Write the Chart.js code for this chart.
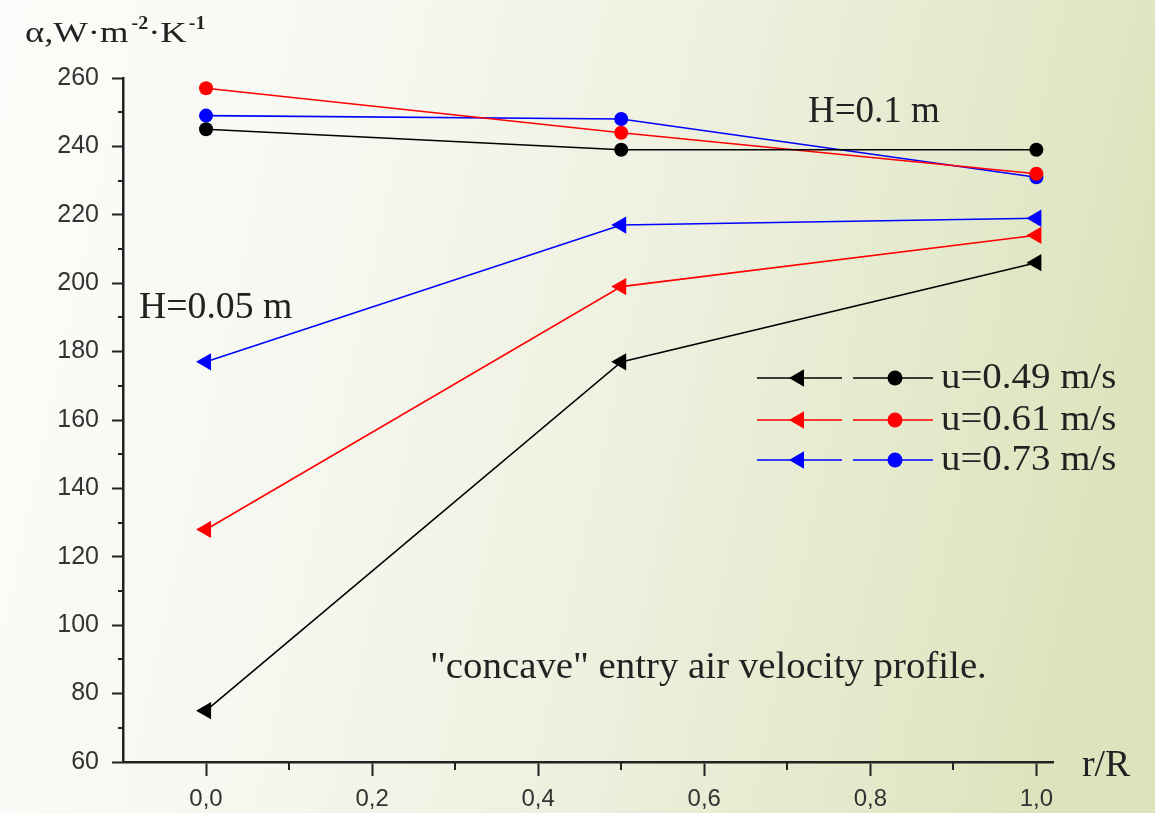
<!DOCTYPE html>
<html><head><meta charset="utf-8">
<script src="https://cdn.jsdelivr.net/npm/chart.js@4.4.1/dist/chart.umd.min.js"></script>
<style>
html,body{margin:0;padding:0;width:1155px;height:813px;overflow:hidden;background:#fff;}
#wrap{position:relative;width:1155px;height:813px;}
</style></head><body>
<div id="wrap"><canvas id="c" width="1155" height="813"></canvas></div>
<script>
// ---- data ----
const rR = [0, 0.5, 1.0];
const xTickValues = [0, 0.2, 0.4, 0.6, 0.8, 1.0];
const xMinorTicks = [0.1, 0.3, 0.5, 0.7, 0.9];
const yTickValues = [60, 80, 100, 120, 140, 160, 180, 200, 220, 240, 260];
const yMinorTicks = [70, 90, 110, 130, 150, 170, 190, 210, 230, 250];
const speedLabels = ['u=0.49 m/s', 'u=0.61 m/s', 'u=0.73 m/s'];
const seriesColors = ['#000000', '#ff0000', '#0000ff'];
// H = 0.1 m (circles)
const h01_u049 = [245, 239, 239];
const h01_u061 = [257, 244, 232];
const h01_u073 = [249, 248, 231];
// H = 0.05 m (triangles)
const h005_u049 = [75, 177, 206];
const h005_u061 = [128, 199, 214];
const h005_u073 = [177, 217, 219];

const yTitle = ['α,W·m', '-2', '·K', '-1'];
const xTitle = 'r/R';
const noteH01 = 'H=0.1 m';
const noteH005 = 'H=0.05 m';
const noteProfile = '"concave" entry air velocity profile.';

const SERIF = '"Liberation Serif", "Times New Roman", serif';
const SANS = '"Liberation Sans", Arial, sans-serif';

function pts(vals){ return vals.map((v,i)=>({x:rR[i], y:v})); }

function ds(vals, color, style){
  const tri = style === 'triangle';
  return {
    data: pts(vals),
    borderColor: color,
    backgroundColor: color,
    borderWidth: 1.6,
    pointStyle: style,
    pointRotation: tri ? -90 : 0,
    pointRadius: tri ? 10 : 7,
    pointBorderWidth: 0,
    pointBackgroundColor: color,
    tension: 0,
    clip: false
  };
}

const datasets = [
  ds(h01_u049, seriesColors[0], 'circle'),
  ds(h01_u061, seriesColors[1], 'circle'),
  ds(h01_u073, seriesColors[2], 'circle'),
  ds(h005_u049, seriesColors[0], 'triangle'),
  ds(h005_u061, seriesColors[1], 'triangle'),
  ds(h005_u073, seriesColors[2], 'triangle')
];

const bgPlugin = {
  id: 'bg',
  beforeDraw(chart){
    const ctx = chart.ctx;
    const g = ctx.createLinearGradient(0, 0, 1155, 250);
    g.addColorStop(0, '#fcfcfa');
    g.addColorStop(0.3, '#f7f8f1');
    g.addColorStop(0.6, '#eef0df');
    g.addColorStop(0.85, '#e3e9ca');
    g.addColorStop(1, '#dce4bd');
    ctx.save();
    ctx.fillStyle = g;
    ctx.fillRect(0, 0, chart.width, chart.height);
    ctx.restore();
  }
};

function drawMarker(ctx, style, x, y, color){
  ctx.fillStyle = color;
  ctx.beginPath();
  if (style === 'circle') {
    ctx.arc(x, y, 7.5, 0, Math.PI*2);
  } else {
    const r = 10;
    ctx.moveTo(x - r, y);
    ctx.lineTo(x + r*0.5, y - r*0.866);
    ctx.lineTo(x + r*0.5, y + r*0.866);
    ctx.closePath();
  }
  ctx.fill();
}

// text drawn with a slight horizontal stretch; returns advance width
function stretchText(ctx, text, x, y, font, sx){
  ctx.save();
  ctx.font = font;
  ctx.translate(x, y);
  ctx.scale(sx, 1);
  ctx.fillText(text, 0, 0);
  const w = ctx.measureText(text).width * sx;
  ctx.restore();
  return w;
}

const decoPlugin = {
  id: 'deco',
  afterDraw(chart){
    const ctx = chart.ctx;
    const xs = chart.scales.x, ys = chart.scales.y;
    ctx.save();
    // minor ticks
    ctx.strokeStyle = '#222';
    ctx.lineWidth = 2;
    ctx.beginPath();
    yMinorTicks.forEach(v=>{
      const p = Math.round(ys.getPixelForValue(v));
      ctx.moveTo(xs.left - 5, p); ctx.lineTo(xs.left, p);
    });
    xMinorTicks.forEach(v=>{
      const p = Math.round(xs.getPixelForValue(v));
      ctx.moveTo(p, ys.bottom); ctx.lineTo(p, ys.bottom + 8);
    });
    ctx.stroke();

    // axis titles
    ctx.fillStyle = '#222';
    ctx.textBaseline = 'alphabetic';
    ctx.textAlign = 'left';
    let tx = 25;
    const tb = 42;
    const sx = 1.22;
    tx += stretchText(ctx, yTitle[0], tx, tb, '30px ' + SERIF, sx) + 3;
    tx += stretchText(ctx, yTitle[1], tx, tb - 13, 'bold 19px ' + SERIF, 1.05);
    tx += stretchText(ctx, yTitle[2], tx, tb, '30px ' + SERIF, sx) + 2;
    stretchText(ctx, yTitle[3], tx, tb - 13, 'bold 19px ' + SERIF, 1.05);

    stretchText(ctx, xTitle, 1082, 776, '37px ' + SERIF, 1.02);

    // notes
    stretchText(ctx, noteH01, 808, 122, '37px ' + SERIF, 1.0);
    stretchText(ctx, noteH005, 139, 318, '37px ' + SERIF, 1.02);
    stretchText(ctx, noteProfile, 430, 678, '38px ' + SERIF, 1.022);

    // legend
    const rowY = [378, 420, 460];
    speedLabels.forEach((lab, i)=>{
      const y = rowY[i];
      const c = seriesColors[i];
      ctx.strokeStyle = c;
      ctx.lineWidth = 1.6;
      ctx.beginPath();
      ctx.moveTo(757, y); ctx.lineTo(842, y);
      ctx.moveTo(853, y); ctx.lineTo(933, y);
      ctx.stroke();
      drawMarker(ctx, 'triangle', 799, y, c);
      drawMarker(ctx, 'circle', 895, y, c);
      ctx.fillStyle = '#222';
      ctx.textBaseline = 'middle';
      stretchText(ctx, lab, 941, y + 1, '36px ' + SERIF, 1.08);
    });
    ctx.restore();
  }
};

new Chart(document.getElementById('c'), {
  type: 'line',
  data: { datasets },
  plugins: [bgPlugin, decoPlugin],
  options: {
    responsive: false,
    animation: false,
    events: [],
    layout: { padding: { top: 78, right: 102, left: 0, bottom: 0 } },
    plugins: { legend: { display: false }, tooltip: { enabled: false } },
    scales: {
      x: {
        type: 'linear',
        min: -0.1,
        max: 1.02,
        afterBuildTicks(s){ s.ticks = xTickValues.map(v=>({value:v})); },
        afterFit(s){ s.height = 51; },
        grid: { drawOnChartArea: false, tickLength: 14, tickWidth: 2, tickColor: '#222' },
        border: { color: '#222', width: 2.5 },
        ticks: {
          color: '#333',
          padding: 9,
          maxRotation: 0,
          autoSkip: false,
          font: { family: SANS, size: 24 },
          callback(v){ return Number(v).toFixed(1).replace('.', ','); }
        }
      },
      y: {
        type: 'linear',
        min: 60,
        max: 260,
        afterBuildTicks(s){ s.ticks = yTickValues.map(v=>({value:v})); },
        afterFit(s){ s.width = 123; },
        grid: { drawOnChartArea: false, tickLength: 11, tickWidth: 2, tickColor: '#222' },
        border: { color: '#222', width: 2.5 },
        ticks: {
          color: '#333',
          padding: 13,
          autoSkip: false,
          font: { family: SANS, size: 25 },
          callback(v){ return String(v); }
        }
      }
    }
  }
});
</script>
</body></html>
